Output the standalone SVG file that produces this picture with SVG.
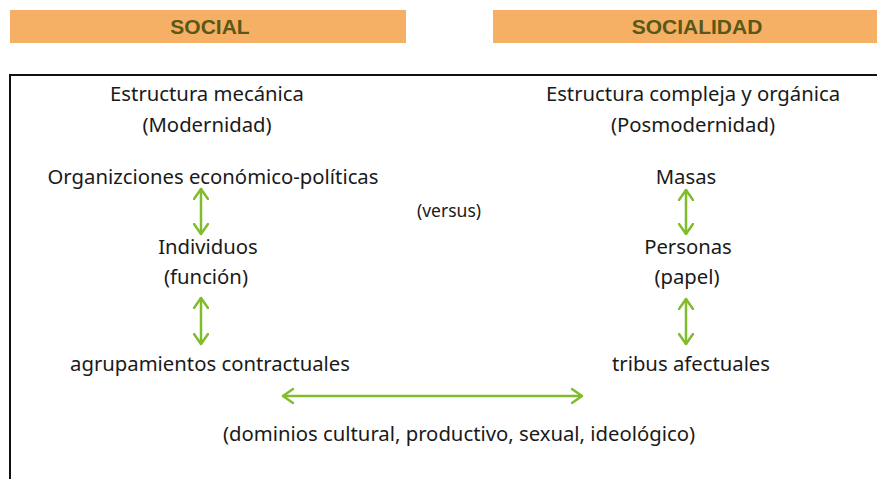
<svg xmlns="http://www.w3.org/2000/svg" width="877" height="479" viewBox="0 0 877 479">
<style>
.hdr{fill:#f5b066}
.ht{font-family:"Liberation Sans","Open Sans",sans-serif;font-weight:bold;font-size:21px;fill:#5a5816;text-anchor:middle}
.t{font-family:"Noto Sans","Open Sans",sans-serif;font-size:20.3px;fill:#1a1a1a;text-anchor:middle}
.s{font-size:17.5px}
.c{stroke:#80bc2c;stroke-width:2.5;fill:none;stroke-linecap:round;stroke-linejoin:round}
</style>
<defs>
<marker id="ah" viewBox="0 0 12 16" refX="11" refY="8" markerWidth="12" markerHeight="16" markerUnits="userSpaceOnUse" orient="auto-start-reverse">
<path d="M1,1 L11,8 L1,15" fill="none" stroke="#80bc2c" stroke-width="2.5" stroke-linecap="round" stroke-linejoin="round"/>
</marker>
</defs>
<rect width="877" height="479" fill="#fff"/>
<g id="social-header"><rect class="hdr" x="10" y="10" width="396" height="33"/><text class="ht" x="210" y="34">SOCIAL</text></g>
<g id="socialidad-header"><rect class="hdr" x="493" y="10" width="384" height="33"/><text class="ht" x="697" y="34">SOCIALIDAD</text></g>
<path id="frame" d="M10,490 V75 H890" fill="none" stroke="#111" stroke-width="2"/>
<g id="estructura-mecanica"><text class="t" x="207" y="101">Estructura mecánica</text><text class="t" x="207" y="132">(Modernidad)</text></g>
<g id="organizaciones"><text class="t" x="213" y="184">Organizciones económico-políticas</text></g>
<g id="individuos"><text class="t" x="208" y="254">Individuos</text><text class="t" x="206" y="284">(función)</text></g>
<g id="agrupamientos"><text class="t" x="210" y="371">agrupamientos contractuales</text></g>
<g id="versus"><text class="t s" x="449" y="217">(versus)</text></g>
<g id="estructura-compleja"><text class="t" x="693" y="101">Estructura compleja y orgánica</text><text class="t" x="693" y="132">(Posmodernidad)</text></g>
<g id="masas"><text class="t" x="686" y="184">Masas</text></g>
<g id="personas"><text class="t" x="688" y="254">Personas</text><text class="t" x="687" y="284">(papel)</text></g>
<g id="tribus"><text class="t" x="691" y="371">tribus afectuales</text></g>
<g id="dominios"><text class="t" x="459" y="441">(dominios cultural, productivo, sexual, ideológico)</text></g>
<g id="connectors">
<line class="c" x1="201" y1="189" x2="201" y2="234" marker-start="url(#ah)" marker-end="url(#ah)"/>
<line class="c" x1="201" y1="298" x2="201" y2="344" marker-start="url(#ah)" marker-end="url(#ah)"/>
<line class="c" x1="686" y1="190" x2="686" y2="234" marker-start="url(#ah)" marker-end="url(#ah)"/>
<line class="c" x1="686" y1="299" x2="686" y2="344" marker-start="url(#ah)" marker-end="url(#ah)"/>
<line class="c" x1="283" y1="396" x2="582" y2="396" marker-start="url(#ah)" marker-end="url(#ah)"/>
</g>
</svg>
